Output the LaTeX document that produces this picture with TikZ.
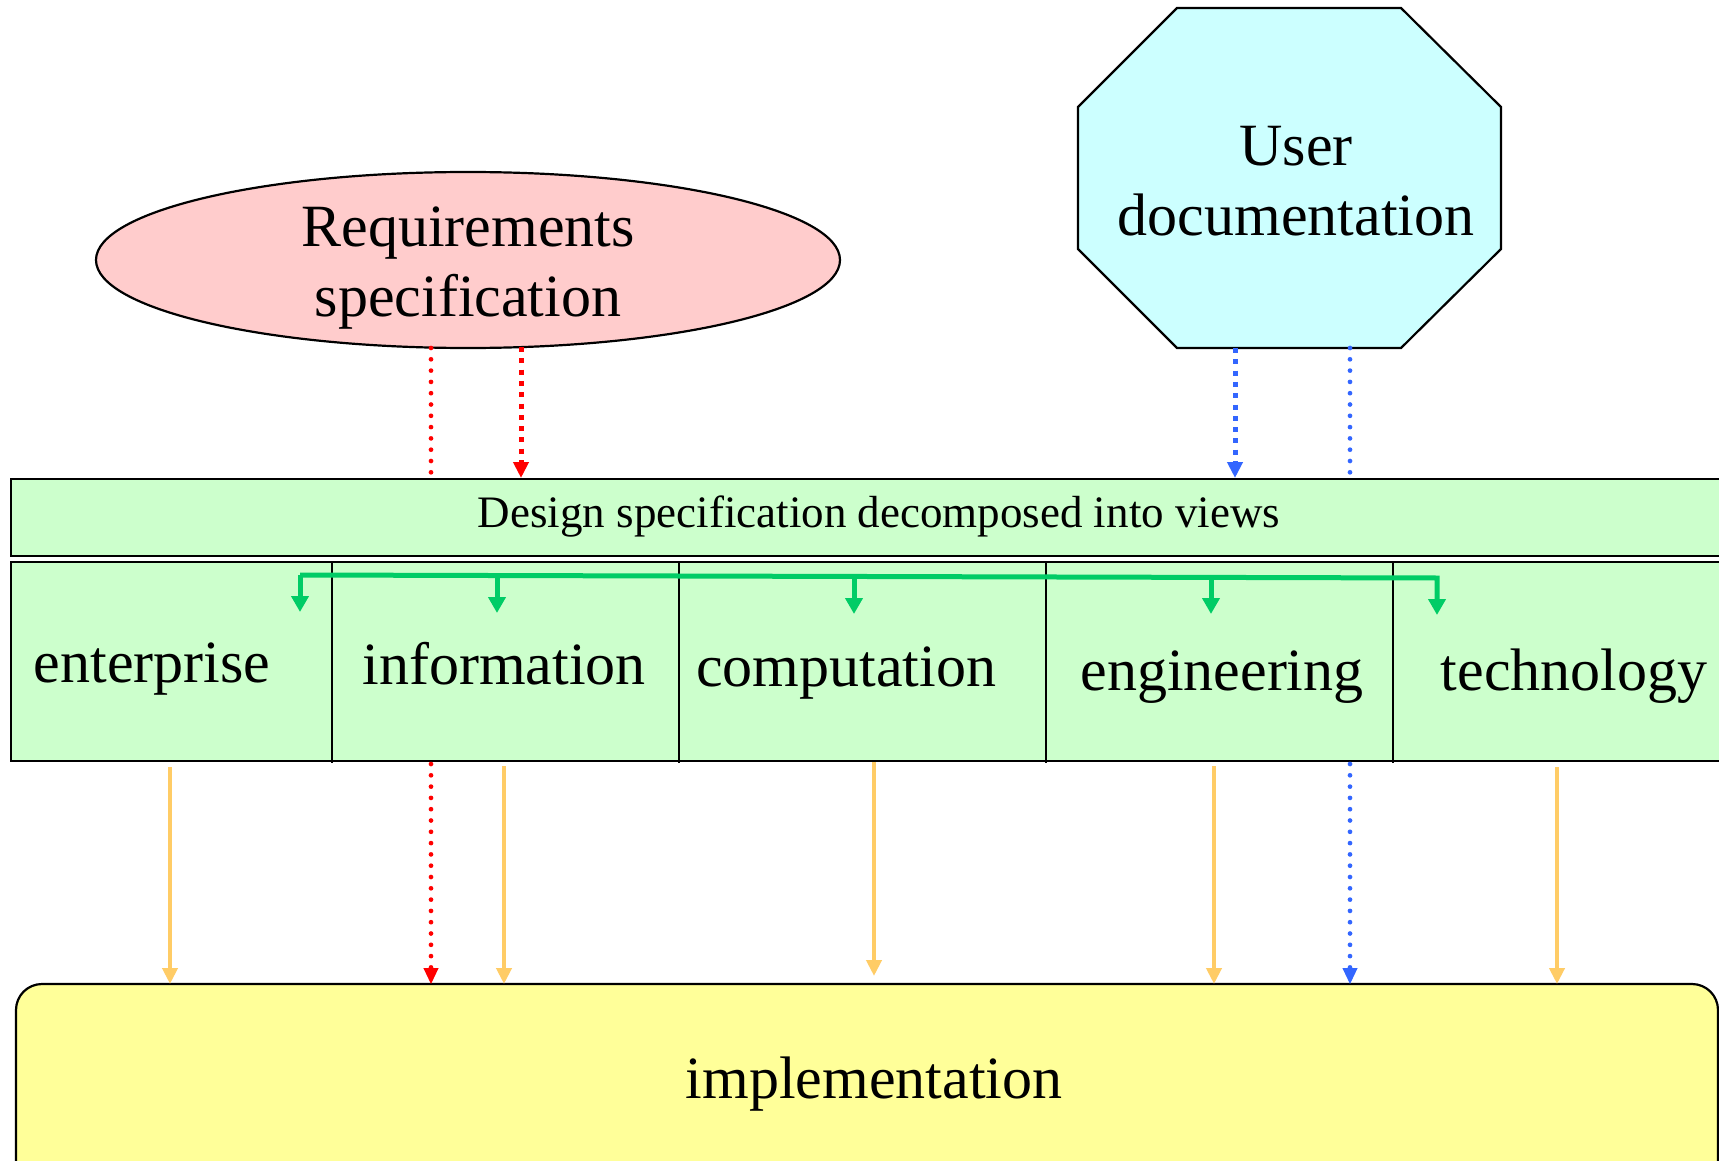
\documentclass[tikz,border=0pt]{standalone}
\usepackage{fontspec}
\setmainfont{Liberation Serif}
\usetikzlibrary{shapes.geometric,arrows.meta,calc}
\definecolor{reqfill}{HTML}{FFCCCC}
\definecolor{docfill}{HTML}{CCFFFF}
\definecolor{viewfill}{HTML}{CCFFCC}
\definecolor{implfill}{HTML}{FFFF99}
\definecolor{orangec}{HTML}{FFCC66}
\definecolor{redc}{HTML}{FF0000}
\definecolor{bluec}{HTML}{3366FF}
\definecolor{greenc}{HTML}{00CC66}
\begin{document}
\begin{tikzpicture}[x=1pt,y=-1pt,
  bigtext/.style={font=\fontsize{60}{70}\selectfont},
  viewtext/.style={font=\fontsize{60}{70}\selectfont,anchor=base,inner sep=0pt},
  boxline/.style={draw=black,line width=2.2pt},
  orangearr/.style={draw=orangec,line width=4.2pt,-{Triangle[length=16pt,width=15pt]}},
  greenarr/.style={draw=greenc,line width=5pt,-{Triangle[length=16pt,width=17pt]}},
  rounddots/.style={line width=4.7pt,line cap=round,dash pattern=on 0pt off 11.3pt},
  squaredots/.style={line width=5pt,line cap=butt,dash pattern=on 5pt off 6.3pt},
  dottip/.style={-{Triangle[length=16pt,width=15pt]}},
]
\clip (0,0) rectangle (1719,1161);
\fill[white] (0,0) rectangle (1719,1161);

% Requirements ellipse
\node[ellipse,boxline,fill=reqfill,minimum width=744pt,minimum height=176pt,inner sep=0pt] (req) at (468,260) {};
\node[bigtext,align=center] (reqtext) at (468,268) {Requirements\\specification};

% User documentation octagon
\draw[boxline,fill=docfill] (1177,8) -- (1401,8) -- (1501,107) -- (1501,249) -- (1401,348) -- (1177,348) -- (1078,249) -- (1078,107) -- cycle;
\node[bigtext,align=center] (doc) at (1296,181) {User\\documentation};
\coordinate (doc1) at (1235,348);
\coordinate (doc2) at (1350,348);
\coordinate (req1) at (431,348);
\coordinate (req2) at (521,347);

% dotted lines behind bars
\draw[redc,rounddots] (req1) -- (431,478);
\draw[bluec,rounddots] (doc2) -- (1350,478);

% Design bar
\node[boxline,fill=viewfill,minimum width=1738pt,minimum height=77pt,inner sep=0pt,anchor=north west] (design) at (10,478) {};
\node[font=\fontsize{45}{52}\selectfont] (designtext) at (879,517) {Design specification decomposed into views};

% Views bar
\node[boxline,fill=viewfill,minimum width=1738pt,minimum height=199pt,inner sep=0pt,anchor=north west] (views) at (10,561) {};
\foreach \x in {332,679,1046,1393} \draw[black,line width=2pt] (\x,563) -- (\x,763);

\node[viewtext] (enterprise) at (152,682) {enterprise};
\node[viewtext] (information) at (504,684) {information};
\node[viewtext] (computation) at (846,686) {computation};
\node[viewtext] (engineering) at (1222,690) {engineering};
\node[viewtext] (technology) at (1574,690) {technology};

% Implementation
\draw[boxline,fill=implfill,rounded corners=26pt] (16,984) rectangle (1718,1220);
\node[inner sep=0pt,minimum width=1702pt,minimum height=236pt,anchor=north west] (impl) at (16,984) {};
\node[bigtext] (impltext) at (874,1084) {implementation};

% arrows into design bar
\draw[redc,squaredots,dottip] (req2) -- (req2 |- design.north);
\draw[bluec,squaredots,dottip] (doc1) -- (doc1 |- design.north);

% green bracket
\coordinate (g1) at (300,575);
\coordinate (g5) at (1437,578);
\draw[greenarr,line join=miter] (g1) -- (g5) -- ++(0,37);
\draw[greenarr] (g1) -- ++(0,37);
\foreach \x/\y in {497/576,854/577,1211/577} \draw[greenarr] (\x,\y) -- (\x,\y+37);

% lower connectors
\coordinate (o1) at (170,767);
\coordinate (o2) at (504,766);
\coordinate (o3) at (874,762);
\coordinate (o4) at (1214,766);
\coordinate (o5) at (1557,767);
\coordinate (r3) at (431,764);
\coordinate (b3) at (1350,764);
\foreach \c in {o1,o2,o4,o5} \draw[orangearr] (\c) -- (\c |- impl.north);
\draw[orangearr] (o3) -- ($(o3 |- impl.north)+(0,-8)$);
\draw[redc,rounddots] (r3) -- ($(r3 |- impl.north)+(0,-14)$);
\draw[redc,line width=1pt,-{Triangle[length=16pt,width=15pt]}] ($(r3 |- impl.north)+(0,-17)$) -- (r3 |- impl.north);
\draw[bluec,rounddots] (b3) -- ($(b3 |- impl.north)+(0,-14)$);
\draw[bluec,line width=1pt,-{Triangle[length=16pt,width=15pt]}] ($(b3 |- impl.north)+(0,-17)$) -- (b3 |- impl.north);
\end{tikzpicture}
\end{document}
